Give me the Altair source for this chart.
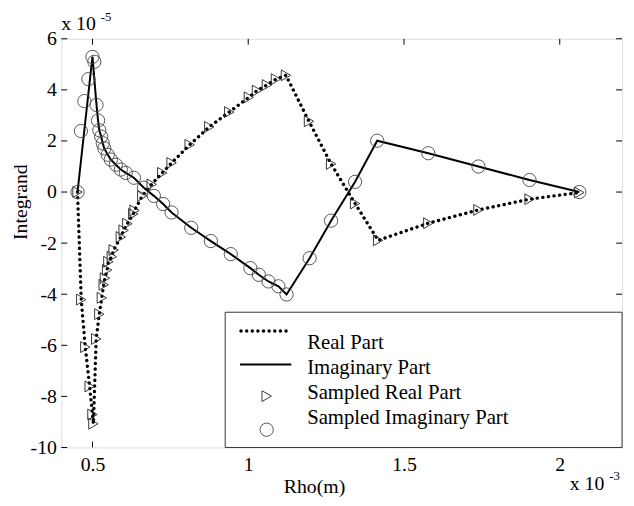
import altair as alt
import pandas as pd

# ---- data (x in units of 1e-3 m, y in units of 1e-5) ----
REAL_X = [0.452, 0.464, 0.477, 0.491, 0.500, 0.503, 0.512, 0.522, 0.530, 0.536,
          0.540, 0.547, 0.551, 0.562, 0.568, 0.591, 0.600, 0.612, 0.631, 0.635,
          0.660, 0.690, 0.724, 0.754, 0.812, 0.875, 0.939, 1.002, 1.028, 1.060,
          1.089, 1.121, 1.195, 1.266, 1.343, 1.417, 1.578, 1.739, 1.903, 2.063]
REAL_Y = [0.00, -4.21, -6.07, -7.61, -8.71, -9.07, -5.75, -4.78, -4.14, -3.63,
          -3.37, -3.05, -2.73, -2.53, -2.27, -1.76, -1.50, -1.24, -0.86, -0.72,
          -0.15, 0.30, 0.75, 1.14, 1.85, 2.55, 3.13, 3.71, 3.97, 4.19,
          4.42, 4.57, 2.77, 1.10, -0.45, -1.89, -1.22, -0.70, -0.28, -0.02]

IMAG_X = [0.452, 0.463, 0.474, 0.487, 0.500, 0.506, 0.513, 0.518, 0.522, 0.528,
          0.533, 0.538, 0.549, 0.559, 0.575, 0.591, 0.607, 0.633, 0.665, 0.697,
          0.727, 0.754, 0.817, 0.880, 0.944, 1.007, 1.034, 1.065, 1.097, 1.123,
          1.197, 1.266, 1.343, 1.414, 1.578, 1.739, 1.903, 2.063]
IMAG_Y = [0.00, 2.39, 3.56, 4.42, 5.29, 5.10, 3.41, 2.80, 2.42, 2.17,
          1.91, 1.71, 1.46, 1.27, 1.07, 0.88, 0.75, 0.56, 0.17, -0.15,
          -0.47, -0.80, -1.40, -1.92, -2.43, -2.98, -3.24, -3.50, -3.69, -4.01,
          -2.59, -1.12, 0.40, 2.01, 1.52, 1.00, 0.47, 0.00]

# polyline vertices of the continuous curves
REAL_LINE_X = REAL_X
REAL_LINE_Y = REAL_Y
IMAG_LINE_X = [0.452, 0.500, 0.513, 0.518, 0.522, 0.528, 0.533, 0.538, 0.549, 0.559,
               0.575, 0.591, 0.607, 0.633, 0.665, 0.697, 0.727, 0.754, 0.817, 0.880,
               0.944, 1.007, 1.034, 1.065, 1.097, 1.123, 1.197, 1.266, 1.343, 1.414,
               1.578, 1.739, 1.903, 2.063]
IMAG_LINE_Y = [0.00, 5.30, 3.41, 2.80, 2.42, 2.17, 1.91, 1.71, 1.46, 1.27,
               1.07, 0.88, 0.75, 0.56, 0.17, -0.15, -0.47, -0.80, -1.40, -1.92,
               -2.43, -2.98, -3.24, -3.50, -3.69, -4.01, -2.59, -1.12, 0.40, 2.01,
               1.52, 1.00, 0.47, 0.00]

X_TICKS = [0.5, 1, 1.5, 2]
Y_TICKS = [-10, -8, -6, -4, -2, 0, 2, 4, 6]
X_DOMAIN = [0.4, 2.2]
Y_DOMAIN = [-10, 6]

LEGEND_LABELS = ["Real Part", "Imaginary Part", "Sampled Real Part", "Sampled Imaginary Part"]
X_TITLE = "Rho(m)"
Y_TITLE = "Integrand"

FONT = "Liberation Serif"
W, H = 568, 414

real_df = pd.DataFrame({"x": REAL_X, "y": REAL_Y})
imag_df = pd.DataFrame({"x": IMAG_X, "y": IMAG_Y})
real_line_df = pd.DataFrame({"x": REAL_LINE_X, "y": REAL_LINE_Y, "i": range(len(REAL_LINE_X))})
imag_line_df = pd.DataFrame({"x": IMAG_LINE_X, "y": IMAG_LINE_Y, "i": range(len(IMAG_LINE_X))})

xs = alt.Scale(domain=X_DOMAIN, nice=False, zero=False)
ys = alt.Scale(domain=Y_DOMAIN, nice=False, zero=False)

x_axis = alt.Axis(values=X_TICKS, labelExpr="'' + datum.value", title=X_TITLE,
                  domain=False, ticks=False, grid=False, labelPadding=7,
                  labelFont=FONT, labelFontSize=20, labelColor="black",
                  titleFont=FONT, titleFontSize=20, titleFontWeight="normal", titleColor="black",
                  titleX=256, titleY=40, titleBaseline="middle")
y_axis = alt.Axis(values=Y_TICKS, labelExpr="'' + datum.value", title=Y_TITLE,
                  domain=False, ticks=False, grid=False, labelPadding=5,
                  labelFont=FONT, labelFontSize=20, labelColor="black",
                  titleFont=FONT, titleFontSize=20, titleFontWeight="normal", titleColor="black",
                  titleX=-41, titleY=165, titleBaseline="middle")


def X(field):
    return alt.X(field, type="quantitative", scale=xs, axis=x_axis)


def Y(field):
    return alt.Y(field, type="quantitative", scale=ys, axis=y_axis)


imag_line = alt.Chart(imag_line_df).mark_line(color="black", strokeWidth=2).encode(
    x=X("x"), y=Y("y"), order="i:Q")
real_line = alt.Chart(real_line_df).mark_line(
    color="black", strokeWidth=3.4, strokeDash=[0.1, 5.6], strokeCap="round"
).encode(x=X("x"), y=Y("y"), order="i:Q")
tri = alt.Chart(real_df).mark_point(
    shape="triangle-right", filled=False, color="#222", strokeWidth=0.9, size=120, opacity=1
).encode(x=X("x"), y=Y("y"))
circ = alt.Chart(imag_df).mark_point(
    shape="circle", filled=False, color="#444", strokeWidth=0.9, size=180, opacity=1
).encode(x=X("x"), y=Y("y"))

xt_df = pd.DataFrame({"x": X_TICKS})
yt_df = pd.DataFrame({"y": Y_TICKS})
xt_bottom = alt.Chart(xt_df).mark_rule(color="black", strokeWidth=1).encode(
    x=X("x"), y=alt.value(H), y2=alt.value(H - 6))
xt_top = alt.Chart(xt_df).mark_rule(color="black", strokeWidth=1).encode(
    x=X("x"), y=alt.value(0), y2=alt.value(6))
yt_left = alt.Chart(yt_df).mark_rule(color="black", strokeWidth=1).encode(
    y=Y("y"), x=alt.value(0), x2=alt.value(6))
yt_right = alt.Chart(yt_df).mark_rule(color="black", strokeWidth=1).encode(
    y=Y("y"), x=alt.value(W), x2=alt.value(W - 6))

# legend (drawn in pixel space)
one = pd.DataFrame({"a": [0]})
leg_box = alt.Chart(one).mark_rect(fill="white", stroke="#333", strokeWidth=1).encode(
    x=alt.value(166), x2=alt.value(W), y=alt.value(277), y2=alt.value(H))
leg_dot = alt.Chart(one).mark_rule(color="black", strokeWidth=3.4, strokeDash=[0.1, 5.6],
                                   strokeCap="round").encode(
    x=alt.value(182), x2=alt.value(230), y=alt.value(296))
leg_solid = alt.Chart(one).mark_rule(color="black", strokeWidth=2).encode(
    x=alt.value(181), x2=alt.value(233), y=alt.value(330))
leg_tri = alt.Chart(one).mark_point(shape="triangle-right", filled=False, color="#222",
                                    strokeWidth=0.9, size=120, opacity=1).encode(
    x=alt.value(208), y=alt.value(362))
leg_circ = alt.Chart(one).mark_point(shape="circle", filled=False, color="#444",
                                     strokeWidth=0.9, size=180, opacity=1).encode(
    x=alt.value(208), y=alt.value(396))
leg_text = alt.layer(*[
    alt.Chart(pd.DataFrame({"t": [lab]})).mark_text(
        font=FONT, fontSize=21, align="left", baseline="middle", color="black"
    ).encode(text="t:N", x=alt.value(249), y=alt.value(yy))
    for lab, yy in zip(LEGEND_LABELS, [308, 334, 359, 384])
])


# exponent annotations
def txt(s, x, y, size):
    return alt.Chart(pd.DataFrame({"t": [s]})).mark_text(
        font=FONT, fontSize=size, align="left", baseline="middle", color="black"
    ).encode(text="t:N", x=alt.value(x), y=alt.value(y))


exp_y = txt("x 10", 0, -15, 20) + txt("-5", 40, -22, 13)
exp_x = txt("x 10", 515, 451, 20) + txt("-3", 555, 443, 13)

chart = alt.layer(
    imag_line, real_line, tri, circ,
    xt_bottom, xt_top, yt_left, yt_right,
    leg_box, leg_dot, leg_solid, leg_tri, leg_circ, leg_text,
    exp_y, exp_x,
).properties(
    width=W, height=H,
    autosize=alt.AutoSizeParams(type="none"),
    padding={"left": 54, "top": 28, "right": 4, "bottom": 48},
).configure_view(stroke="black", strokeWidth=1).configure(background="white")

chart.save("out.html", embed_options={"renderer": "svg", "actions": False})
